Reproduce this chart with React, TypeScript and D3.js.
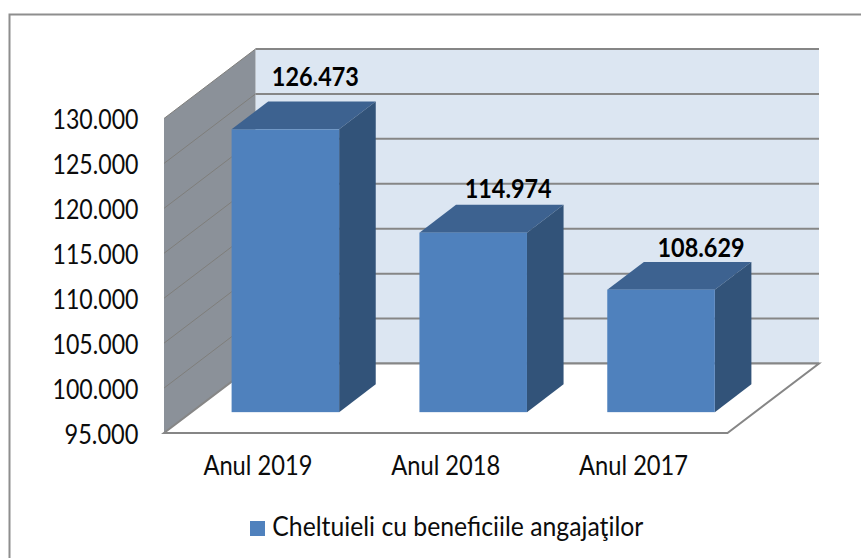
import React from "react";
import * as d3 from "d3";

const categories = ["Anul 2019", "Anul 2018", "Anul 2017"];
const values = [126473, 114974, 108629];
const valueLabels = ["126.473", "114.974", "108.629"];
const yTicks = [95000, 100000, 105000, 110000, 115000, 120000, 125000, 130000];
const seriesName = "Cheltuieli cu beneficiile angajaţilor";

const width = 861;
const height = 558;
const font = "Lato, 'Open Sans', sans-serif";

// oblique projection of the 3D box
const depthX = 91.5;
const depthY = -69.5;
const barDepthFrom = 0.3;
const barDepthTo = 0.7;

// hand placed data labels, relative to the bar's front centre and back top edge
const labelDx = [30, 35, 40];
const labelDy = [-16, -7, -5];

const x = d3.scaleBand().domain(categories).range([164, 727.5]).paddingInner(0.4275).paddingOuter(0.21375);
const y = d3.scaleLinear().domain([95000, 130000]).range([433, 118.5]);
const fmt = (v: number) => d3.format(",")(v).replace(/,/g, ".");

// d = 0 is the front of the floor, d = 1 the back wall
const px = (xv: number, d: number) => xv + depthX * d;
const py = (v: number, d: number) => y(v) + depthY * d;
const poly = (pts: [number, number][]) => d3.line()(pts) + "Z";

export default function App() {
  const x0 = y.domain()[0];
  const x1 = y.domain()[1];
  const [left, right] = x.range();
  const gridColor = "#868686";
  const textColor = "#0c0c0c";

  return (
    <svg
      width={width}
      height={height}
      style={{ position: "absolute", left: 0, top: 0 }}
      fontFamily={font}
    >
      <rect x={9.5} y={14.5} width={860} height={560} fill="#fff" stroke="#8e8e8e" strokeWidth={2} />

      {/* back wall */}
      <rect
        x={px(left, 1)}
        y={py(x1, 1)}
        width={right - left}
        height={py(x0, 1) - py(x1, 1)}
        fill="#dce6f2"
      />
      {/* side wall */}
      <path
        d={poly([
          [left, y(x1)],
          [px(left, 1), py(x1, 1)],
          [px(left, 1), py(x0, 1)],
          [left, y(x0)],
        ])}
        fill="#8b9199"
      />

      {yTicks.map((t) => (
        <g key={t}>
          <line
            x1={left}
            x2={px(left, 1)}
            y1={y(t)}
            y2={py(t, 1)}
            stroke="#7f7e7b"
            strokeWidth={1}
          />
          <line
            x1={px(left, 1)}
            x2={px(right, 1)}
            y1={py(t, 1)}
            y2={py(t, 1)}
            stroke={gridColor}
            strokeWidth={2}
          />
          <text
            x={138.5}
            y={y(t) + 10.5}
            textAnchor="end"
            fontSize={26}
            textLength={fmt(t).length === 7 ? 86 : 74}
            lengthAdjust="spacingAndGlyphs"
            fill={textColor}
          >
            {fmt(t)}
          </text>
        </g>
      ))}

      {/* floor outline */}
      <path
        d={poly([
          [left, y(x0)],
          [right, y(x0)],
          [px(right, 1), py(x0, 1)],
          [px(left, 1), py(x0, 1)],
        ])}
        fill="#fff"
        stroke={gridColor}
        strokeWidth={2}
      />

      {categories.map((c, i) => {
        const bx = x(c)!;
        const bw = x.bandwidth();
        const v = values[i];
        const fx0 = px(bx, barDepthFrom);
        const fx1 = fx0 + bw;
        const bx1 = px(bx, barDepthTo) + bw;
        const bx0 = px(bx, barDepthTo);
        const top = py(v, barDepthFrom);
        const bottom = py(x0, barDepthFrom);
        const topBack = py(v, barDepthTo);
        const bottomBack = py(x0, barDepthTo);
        return (
          <g key={c}>
            <path
              d={poly([
                [fx0, top],
                [bx0, topBack],
                [bx1, topBack],
                [fx1, top],
              ])}
              fill="#3d6290"
            />
            <path
              d={poly([
                [fx1, top],
                [bx1, topBack],
                [bx1, bottomBack],
                [fx1, bottom],
              ])}
              fill="#325379"
            />
            <rect x={fx0} y={top} width={bw} height={bottom - top} fill="#4f81bd" />
            <text
              x={fx0 + bw / 2 + labelDx[i]}
              y={topBack + labelDy[i]}
              textAnchor="middle"
              fontSize={27}
              fontWeight={700}
              textLength={87}
              lengthAdjust="spacingAndGlyphs"
              fill="#000"
            >
              {valueLabels[i]}
            </text>
            <text
              x={bx + bw / 2}
              y={475}
              textAnchor="middle"
              fontSize={26}
              textLength={109}
              lengthAdjust="spacingAndGlyphs"
              fill={textColor}
            >
              {c}
            </text>
          </g>
        );
      })}

      {/* legend */}
      <rect x={250} y={521} width={15} height={15} fill="#4f81bd" />
      <text
        x={272.3}
        y={536}
        fontSize={26}
        textLength={371}
        lengthAdjust="spacingAndGlyphs"
        fill={textColor}
      >
        {seriesName}
      </text>
    </svg>
  );
}
